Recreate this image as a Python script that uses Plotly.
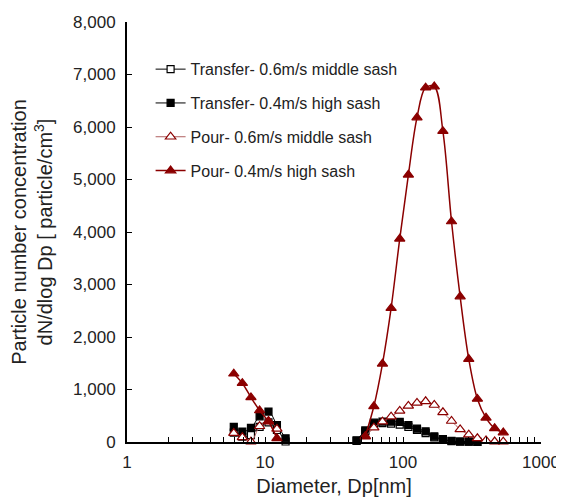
import plotly.graph_objects as go

# Diameters (nm)
d_small = [5.94, 6.85, 7.91, 9.14, 10.6, 12.2, 14.1]
d_large = [46.1, 53.3, 61.5, 71.0, 82.0, 94.7, 109.4, 126.3, 145.9, 168.5,
           194.6, 224.7, 259.5, 299.6, 346.0, 399.5, 461.4, 532.8]

# Transfer- 0.6m/s middle sash
t06_small = [178, 100, 130, 290, 375, 229, 10]
t06_large = [20, 200, 340, 360, 350, 330, 290, 230, 170, 90, 40, 15, 8, 5, 3]
# Transfer- 0.4m/s high sash
t04_small = [290, 200, 270, 490, 580, 324, 70]
t04_large = [30, 220, 368, 387, 387, 382, 324, 255, 203, 108, 54, 20, 10, 8, 3]
# Pour- 0.6m/s middle sash
p06_small = [170, 90, 5, 300, 400, 250]
p06_large = [100, 273, 387, 482, 593, 688, 745, 775, 705, 565, 400, 240, 140, 70, 30, 8, 6]
# Pour- 0.4m/s high sash
p04_small = [1300, 1120, 850, 600, 390, 70]
p04_large = [110, 680, 1490, 2550, 3870, 5090, 6180, 6750, 6770, 5920, 4200, 2770, 1580, 820, 460, 261, 180]

names = ["Transfer- 0.6m/s middle sash", "Transfer- 0.4m/s high sash",
         "Pour- 0.6m/s middle sash", "Pour- 0.4m/s high sash"]

x_ticks = [1, 10, 100, 1000]

def join(xs_s, ys_s, xs_l, ys_l):
    x = list(xs_s[:len(ys_s)]) + [None] + list(xs_l[:len(ys_l)])
    y = list(ys_s) + [None] + list(ys_l)
    return x, y

DR = "#8b0000"
series = [
    (d_small, t06_small, d_large, t06_large, "square", "white", "black", "black", 1, 7),
    (d_small, t04_small, d_large, t04_large, "square", "black", "black", "black", 1, 7),
    (d_small, p06_small, d_large[1:], p06_large, "triangle-up", "white", DR, "#b06060", 1, 9),
    (d_small, p04_small, d_large[1:], p04_large, "triangle-up", DR, DR, DR, 1.5, 9),
]

fig = go.Figure()
for i, (xs, ys, xl, yl, sym, fill, edge, lc, lw, ms) in enumerate(series):
    x, y = join(xs, ys, xl, yl)
    fig.add_trace(go.Scatter(
        x=x, y=y, name=names[i], mode="lines+markers", legendgroup=f"g{i}",
        line=dict(color=lc, width=lw, shape="spline", smoothing=1),
        marker=dict(symbol=sym, size=ms, color=fill, line=dict(color=edge, width=1.2)),
        connectgaps=False, cliponaxis=False))

font = "Liberation Sans, Arial, Helvetica, sans-serif"
# page body has an 8px margin: figure is sized/margined to compensate
fig.update_layout(
    width=556, height=493,
    margin=dict(l=119, r=23, t=14, b=59),
    paper_bgcolor="white", plot_bgcolor="white",
    font=dict(family=font, size=17, color="#222"),
    showlegend=True,
    legend=dict(x=0.057, y=0.928, xanchor="left", yanchor="top",
                bgcolor="rgba(0,0,0,0)", font=dict(size=16, color="#222"),
                tracegroupgap=10),
    xaxis=dict(type="log", range=[0, 3], tickvals=x_ticks, ticktext=[str(v) for v in x_ticks],
               ticks="inside", ticklen=5, tickcolor="black", showgrid=False,
               minor=dict(ticks="inside", ticklen=5, tickcolor="black", dtick="D1", showgrid=False),
               showline=True, linecolor="black", linewidth=2, zeroline=False,
               ticklabelstandoff=4, automargin=False,
               title=dict(text="Diameter, Dp[nm]", font=dict(size=20), standoff=8)),
    yaxis=dict(range=[0, 8000], dtick=1000, tickformat=",d", ticks="inside",
               ticklen=5, tickcolor="black", showgrid=False, showline=True,
               linecolor="black", linewidth=2, zeroline=False, ticklabelstandoff=6,
               automargin=False,
               title=dict(text="Particle number concentration<br>dN/dlog Dp [ particle/cm<sup>3</sup>]",
                          font=dict(size=20), standoff=17)),
)

fig.write_html("out.html")
